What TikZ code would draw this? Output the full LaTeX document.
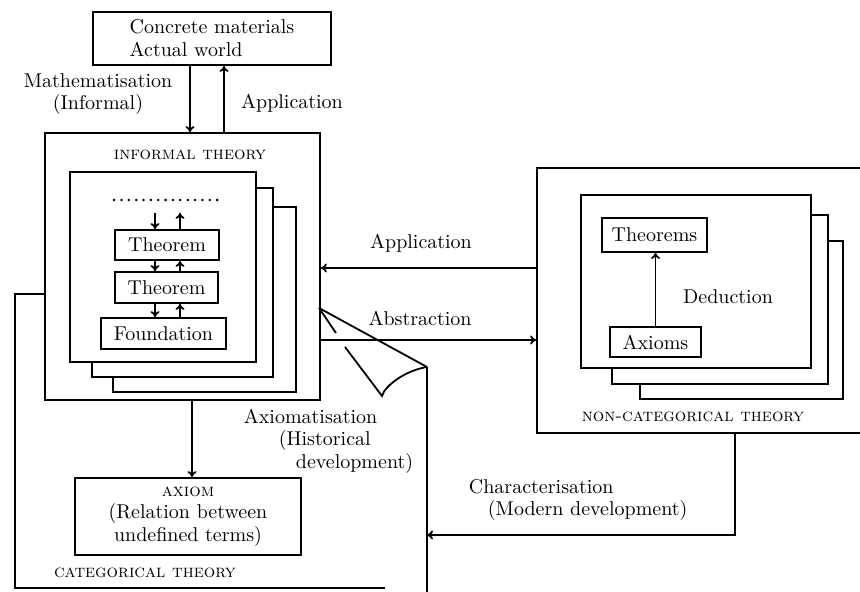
\documentclass[tikz,border=0pt]{standalone}
\usetikzlibrary{arrows.meta,fit}
\begin{document}
\begin{tikzpicture}[x=0.5pt,y=-0.5pt, line width=0.9pt,
  box/.style={draw, inner sep=0pt},
  page/.style={draw, fill=white, inner sep=0pt},
  arr/.style={-{To[length=3pt,width=4.5pt]}},
  lbl/.style={inner sep=0pt, font=\fontsize{10}{11.2}\selectfont},
  sc/.style={inner sep=0pt, font=\small\scshape},
  dotline/.style={line width=1.4pt, line cap=round, dash pattern=on 0pt off 3.68pt}]
\clip (0,0) rectangle (860,592);
% top box
\node[box, fit={(93,12)(331,65)}] (top) {};
\node[lbl, align=left, font=\fontsize{10}{11.5}\selectfont] (toptxt) at (top.center) {Concrete materials\\Actual world};
\node[lbl, align=center] (mlab) at (98,94) {Mathematisation\\(Informal)};
\node[lbl] (alab) at (292,103) {Application};
% informal theory
\node[box, fit={(45,133)(320,400)}] (IT) {};
\node[sc] (itlab) at (190,155) {informal theory};
\node[page, fit={(113,207)(296,392)}] (P3) {};
\node[page, fit={(92,188)(273,377)}] (P2) {};
\node[page, fit={(70,172)(256,362)}] (P1) {};
\node[inner sep=0pt, fit={(115,188)(218,212)}] (dots) {};
\draw[dotline] (dots.west) -- (dots.east);
\node[box, fit={(115,230)(219,260)}] (T1) {};
\node[lbl] (T1t) at (T1.center) {Theorem};
\node[box, fit={(115,272)(218,303)}] (T2) {};
\node[lbl] (T2t) at (T2.center) {Theorem};
\node[box, fit={(101,318)(226,349)}] (F) {};
\node[lbl] (Ft) at (F.center) {Foundation};
\coordinate (xa) at (155,0);
\coordinate (xb) at (180,0);
\draw[arr] (dots.south -| xa) -- (T1.north -| xa);
\draw[arr] (T1.north -| xb) -- (dots.south -| xb);
\draw[arr] (T1.south -| xa) -- (T2.north -| xa);
\draw[arr] (T2.north -| xb) -- (T1.south -| xb);
\draw[arr] (T2.south -| xa) -- (F.north -| xa);
\draw[arr] (F.north -| xb) -- (T2.south -| xb);
% top arrows
\coordinate (xm) at (190,0);
\coordinate (xp) at (224,0);
\draw[arr] (top.south -| xm) -- (IT.north -| xm);
\draw[arr] (IT.north -| xp) -- (top.south -| xp);
% categorical theory page with folded corner
\draw (45,294) -- (15,294) -- (15,588) -- (385,588);
\draw (427,367) -- (427,600);
\draw (319,308) -- (427,367);
\draw (319,308) -- (336,333);
\draw (345,347) -- (382,396) .. controls (385,385) and (407,370) .. (427,367);
\node[sc] (ctlab) at (145,573) {categorical theory};
% axiom box
\node[box, fit={(75,478)(301,555)}] (AX) {};
\node[lbl, align=center] (AXt) at (AX.center) {{\small\scshape axiom}\\(Relation between\\undefined terms)};
\coordinate (xax) at (192,0);
\draw[arr] (IT.south -| xax) -- (AX.north -| xax);
\node[lbl, align=left, anchor=west] (axlab) at (243,441) {Axiomatisation\\\hspace{17.5pt}(Historical\\\hspace{26pt}development)};
% non-categorical theory
\node[box, fit={(537,168)(900,433)}] (NC) {};
\node[page, fit={(640,241)(843,399)}] (Q3) {};
\node[page, fit={(612,215)(828,384)}] (Q2) {};
\node[page, fit={(581,195)(811,368)}] (Q1) {};
\node[box, fit={(602,218)(707,252)}] (TH) {};
\node[lbl] (THt) at (TH.center) {Theorems};
\node[box, fit={(610,327)(701,357)}] (AXS) {};
\node[lbl] (AXSt) at (AXS.center) {Axioms};
\draw[arr] (AXS.north) -- (AXS.north |- TH.south);
\node[lbl] (dlab) at (728,297) {Deduction};
\node[sc] (nclab) at (693,417) {non-categorical theory};
% application / abstraction
\coordinate (yap) at (0,268);
\coordinate (yab) at (0,340);
\draw[arr] (NC.west |- yap) -- (IT.east |- yap);
\draw[arr] (IT.east |- yab) -- (NC.west |- yab);
\node[lbl] (aplab) at (421,243) {Application};
\node[lbl] (ablab) at (420,318) {Abstraction};
% characterisation
\coordinate (xc) at (735,0);
\coordinate (ctr) at (427,535);
\draw[arr] (NC.south -| xc) |- (ctr);
\node[lbl, align=left, anchor=west] (chlab) at (468,500) {Characterisation\\\hspace{9.5pt}(Modern development)};
\end{tikzpicture}
\end{document}
